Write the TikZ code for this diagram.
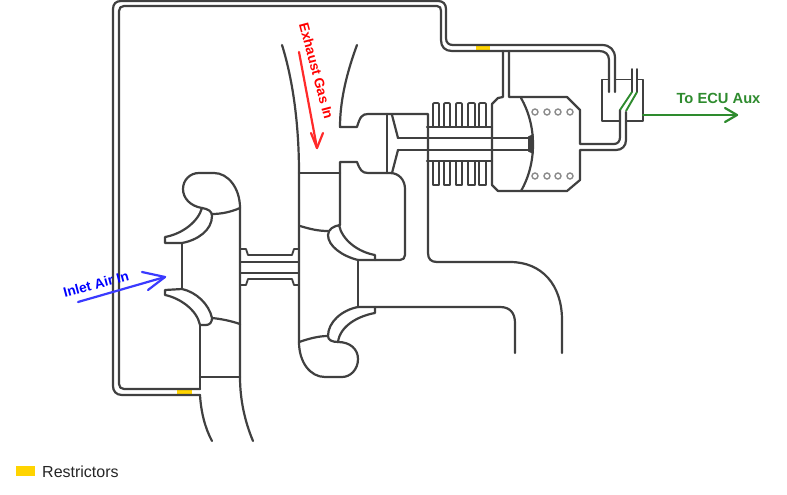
\documentclass[tikz,border=0pt]{standalone}
\usepackage{fontspec}
\setmainfont{Liberation Sans}
\definecolor{ink}{HTML}{404040}
\definecolor{restrict}{HTML}{FFD400}
\definecolor{gr}{HTML}{2E8B2E}
\definecolor{blu}{HTML}{3A3AFF}
\definecolor{rd}{HTML}{FF2A2A}
\tikzset{
  pipe/.style={draw=ink,line width=2.2pt,line join=round,line cap=round},
  thin pipe/.style={draw=ink,line width=1.8pt,line join=round,line cap=round},
  flow/.style={line width=2.2pt,line cap=round,line join=round},
  lab/.style={font=\bfseries\fontsize{13.7}{14}\selectfont,inner sep=0pt},
  dot/.style={draw=black!45,line width=1.4pt,fill=white}
}
\begin{document}
\begin{tikzpicture}[x=1pt,y=-1pt]
\useasboundingbox[fill=white] (0,0) rectangle (787,495);
% restrictors
\fill[restrict] (476,45) rectangle (490,51);
\fill[restrict] (177,389) rectangle (192,395);
% oil / boost pipe
\path[pipe] (200,395) -- (122,395) .. controls (116,395) and (113,391) .. (113,386) -- (113,9) .. controls (113,4) and (116,1) .. (121,1) -- (438,1) .. controls (443,1) and (446,4) .. (446,9) -- (446,38) .. controls (446,43) and (449,45) .. (453,45) -- (602,45) .. controls (610,45) and (615,50) .. (615,58) -- (615,92);
\path[pipe] (200,389) -- (124,389) .. controls (121,389) and (119,387) .. (119,384) -- (119,11) .. controls (119,8) and (121,6) .. (124,6) -- (437,6) .. controls (440,6) and (441,8) .. (441,11) -- (441,40) .. controls (441,47) and (445,51) .. (452,51) -- (599,51) .. controls (605,51) and (609,54) .. (609,60) -- (609,92);
% branch to block
\path[pipe] (503,51) -- (503,97) -- (498,98) -- (492,104) -- (492,185) -- (498,191) -- (567,191) -- (580,180) -- (580,150) -- (616,150) .. controls (622,150) and (626,146) .. (626,140) -- (626,112);
\path[pipe] (509,51) -- (509,97) -- (567,97) -- (580,110) -- (580,144) -- (614,144) .. controls (618,144) and (620,141) .. (620,137) -- (620,110);
\path[pipe] (521,98) .. controls (529,112) and (533,128) .. (533,144.5) .. controls (533,161) and (529,177) .. (521,191);
\foreach \dx in {535,547,558,570}{
  \draw[dot] (\dx,112) circle (3);
  \draw[dot] (\dx,176) circle (3);
}
% actuator box
\path[thin pipe] (609,79.5) -- (602,79.5) -- (602,121) -- (620,121);
\path[thin pipe] (626,121) -- (643,121) -- (643,79.5) -- (637,79.5);
\path[thin pipe] (632,79.5) -- (615,79.5);
\path[thin pipe] (632,69) -- (632,92);
\path[thin pipe] (637,69) -- (637,92);
\draw[gr,line width=1.9pt] (632,92) -- (620,110);
\draw[gr,line width=1.9pt] (637,92) -- (626,111);
% shaft
\path[pipe] (427,127) -- (492,127);
\path[pipe] (427,161) -- (492,161);
\path[pipe] (398,138) -- (530,138);
\path[pipe] (398,150) -- (530,150);
\fill[ink] (528,136.5) -- (533.5,134) -- (533.5,154) -- (528,151.5) -- cycle;
% fins
\foreach \fa/\fb in {433/439,444/450,456/462,468/475,479/486}{
  \path[thin pipe] (\fa,127) -- (\fa,105) .. controls (\fa,103.5) and (\fa,103) .. (\fa+1.5,103) -- (\fb-1.5,103) .. controls (\fb,103) and (\fb,103.5) .. (\fb,105) -- (\fb,127);
  \path[thin pipe] (\fa,161) -- (\fa,185) -- (\fb,185) -- (\fb,161);
}
% turbine housing, inlet
\path[pipe] (282,45) .. controls (293,80) and (299,125) .. (299,173) -- (299,342);
\path[pipe] (357,45) .. controls (347,72) and (340,100) .. (340,127) -- (357,127) .. controls (360,117) and (362,114) .. (368,114) -- (428,114) -- (428,253) .. controls (428,259) and (431,262) .. (437,262) -- (510,262) .. controls (542,262) and (562,285) .. (562,320) -- (562,353);
\path[pipe] (387,114) -- (387,173);
\path[pipe] (392,115) -- (398,138);
\path[pipe] (398,150) -- (392,173);
\path[pipe] (340,225) -- (340,162) -- (357,162) .. controls (360,170) and (362,173) .. (368,173) -- (390,173) .. controls (399,173) and (405,180) .. (405,189) -- (405,255) .. controls (405,258) and (403,260) .. (400,260) -- (358,260);
\path[pipe] (299,173) -- (340,173);
% turbine upper blade
\path[pipe] (339,225) .. controls (342,240) and (358,252) .. (375,255) -- (375,260);
\path[pipe] (358,260) .. controls (342,256) and (328,246) .. (328,235) .. controls (328,229) and (334,226) .. (340,225);
\path[pipe] (300,226) .. controls (310,229) and (318,231) .. (328,231);
\path[pipe] (358,260) -- (358,307);
% turbine lower blade
\path[pipe] (358,307) .. controls (342,310) and (328,322) .. (328,336) .. controls (328,340) and (332,342) .. (338,342);
\path[pipe] (375,307) -- (375,313) .. controls (358,316) and (340,326) .. (338,342);
\path[pipe] (358,307) -- (500,307) .. controls (510,307) and (515,313) .. (515,323) -- (515,353);
% turbine volute
\path[pipe] (299,342) .. controls (308,339) and (318,336) .. (328,336);
\path[pipe] (338,342) .. controls (350,342) and (358,349) .. (358,359) .. controls (358,370) and (350,377) .. (342,377) -- (325,377) .. controls (310,377) and (299,362) .. (299,342);
% compressor
\path[pipe] (240,208) -- (240,377) .. controls (240,400) and (245,422) .. (253,441);
\path[pipe] (200,395) .. controls (201,412) and (205,428) .. (212,441);
\path[pipe] (200,325) -- (200,389);
\path[pipe] (200,377) -- (240,377);
\path[pipe] (182,243) -- (182,289);
% compressor volute
\path[pipe] (202,208) .. controls (190,206) and (183,198) .. (183,189) .. controls (183,180) and (190,173) .. (199,173) -- (214,173) .. controls (228,173) and (240,188) .. (240,208);
\path[pipe] (240,208) .. controls (231,212) and (221,214) .. (212,214);
% compressor upper blade
\path[pipe] (202,208) .. controls (198,222) and (182,234) .. (165,237) -- (165,243) -- (182,243) .. controls (198,240) and (212,230) .. (212,216) .. controls (212,211) and (208,209) .. (202,208);
% compressor lower blade
\path[pipe] (165,290) -- (165,295) .. controls (180,298) and (197,310) .. (200,325) -- (206,325) .. controls (210,325) and (212,322) .. (212,318) .. controls (209,304) and (196,292) .. (182,289) -- (165,290);
\path[pipe] (212,318) .. controls (222,319) and (231,321) .. (240,324);
% connecting shaft
\path[thin pipe] (240,249) -- (246,249) -- (248,255) -- (292,255) -- (294,249) -- (299,249);
\path[thin pipe] (240,262) -- (299,262);
\path[thin pipe] (240,273) -- (299,273);
\path[thin pipe] (240,285) -- (246,285) -- (248,279) -- (292,279) -- (294,285) -- (299,285);
% flows
\coordinate (ecuA) at (643,115);
\coordinate (ecuB) at (737,115);
\draw[gr,flow] (ecuA) -- (ecuB);
\draw[gr,flow] (725,108) -- (ecuB) -- (725,122);
\node[lab,text=gr,font=\bfseries\fontsize{14.7}{15}\selectfont,anchor=center] (ecu) at (718.5,98.5) {To ECU Aux};
\coordinate (inA) at (78,302);
\coordinate (inB) at (165,277);
\draw[blu,flow] (inA) -- (inB);
\draw[blu,flow] (142,272) -- (inB) -- (148,290);
\node[lab,text=blue,rotate=15,anchor=center] (inlet) at (96,284) {Inlet Air In};
\coordinate (exA) at (299,52);
\coordinate (exB) at (317,148);
\draw[rd,flow] (exA) -- (exB);
\draw[rd,flow] (311,133) -- (exB) -- (323,133);
\node[lab,text=red,rotate=-75,anchor=center] (exh) at (316.5,71) {Exhaust Gas In};
% legend
\fill[restrict] (16,466) rectangle (35,476);
\node[anchor=west,inner sep=0pt,font=\fontsize{16}{16}\selectfont,text=black!85] (leg) at (42,472) {Restrictors};
\end{tikzpicture}
\end{document}
